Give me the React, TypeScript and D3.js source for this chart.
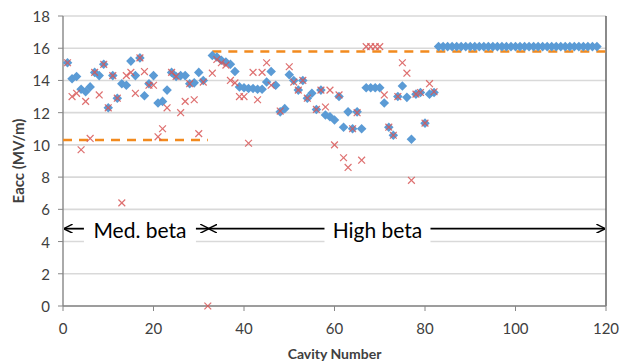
import * as d3 from "d3";

// Eacc per cavity (index = cavity number - 1)
const blueValues: (number | null)[] = [
  15.1, 14.1, 14.25, 13.45, 13.3, 13.6, 14.5, 14.3, 15.0, 12.3,
  14.3, 12.9, 13.8, 13.7, 15.2, 14.3, 15.4, 13.05, 13.8, 14.3,
  12.6, 12.7, 13.4, 14.5, 14.25, 14.3, 14.3, 13.8, 13.85, 14.5,
  14.0, null, 15.55, 15.45, 15.25, 15.15, 15.0, 14.55, 13.6, 13.55,
  13.5, 13.5, 13.45, 13.45, 13.9, 14.55, 13.7, 12.05, 12.25, 14.35,
  14.0, 13.4, 14.0, 12.9, 13.2, 12.2, 13.4, 11.85, 11.75, 11.55,
  13.0, 11.1, 12.05, 11.0, 12.05, 11.0, 13.55, 13.55, 13.55, 13.55,
  12.6, 11.1, 10.6, 13.0, 13.65, 12.95, 10.35, 13.15, 13.25, 11.35,
  13.15, 13.25,
  16.1, 16.1, 16.1, 16.1, 16.1, 16.1, 16.1, 16.1, 16.1, 16.1,
  16.1, 16.1, 16.1, 16.1, 16.1, 16.1, 16.1, 16.1, 16.1, 16.1,
  16.1, 16.1, 16.1, 16.1, 16.1, 16.1, 16.1, 16.1, 16.1, 16.1,
  16.1, 16.1, 16.1, 16.1, 16.1, 16.1,
];

const redValues: (number | null)[] = [
  15.1, 13.0, 13.2, 9.7, 12.7, 10.4, 14.5, 13.1, 15.0, 12.3,
  14.3, 12.9, 6.4, 14.3, 14.5, 13.2, 15.4, 14.55, 13.7, 13.7,
  10.5, 11.0, 12.3, 14.5, 14.25, 12.0, 12.7, 13.8, 12.8, 10.7,
  13.9, 0, 14.45, 15.3, 15.1, 14.95, 14.0, 13.85, 13.0, 13.0,
  10.1, 14.5, 12.8, 14.5, 15.1, 13.7, null, 12.1, null, 14.85,
  13.9, 13.4, 14.0, 12.9, null, 12.2, 13.4, 12.35, 13.4, 10.0,
  13.1, 9.2, 8.6, 11.0, 12.0, 9.05, 16.1, 16.1, 16.1, 16.1,
  13.1, 11.1, 10.6, 13.0, 15.1, 14.45, 7.8, 13.15, 13.25, 11.35,
  13.8, 13.3,
];

const specLines = [
  { start: 0, end: 32, value: 10.3 },
  { start: 33, end: 120, value: 15.8 },
];

const xTickValues = [0, 20, 40, 60, 80, 100, 120];
const yTickValues = [0, 2, 4, 6, 8, 10, 12, 14, 16, 18];

const sections = [
  { label: "Med. beta", from: 0, to: 32 },
  { label: "High beta", from: 32, to: 120 },
];

const width = 626;
const height = 362;
const margin = { top: 16, right: 20, bottom: 56, left: 63 };
const font = "Lato, 'Open Sans', sans-serif";

export default function App() {
  const x = d3
    .scaleLinear()
    .domain([0, 120])
    .range([margin.left, width - margin.right]);
  const y = d3
    .scaleLinear()
    .domain([0, 18])
    .range([height - margin.bottom, margin.top]);

  const diamond = d3.symbol(d3.symbolDiamond2, 58)() as string;

  const bluePoints = blueValues
    .map((v, i) => ({ n: i + 1, v }))
    .filter((d) => d.v !== null) as { n: number; v: number }[];
  const redPoints = redValues
    .map((v, i) => ({ n: i + 1, v }))
    .filter((d) => d.v !== null) as { n: number; v: number }[];

  const arrowY = y(4.8);
  const xr = 3.4;

  return (
    <svg
      width={width}
      height={height}
      style={{ position: "absolute", left: 0, top: 0, background: "#fff" }}
    >
      <defs>
        <marker
          id="head"
          viewBox="0 0 10 10"
          refX={9}
          refY={5}
          markerWidth={9}
          markerHeight={9}
          markerUnits="userSpaceOnUse"
          orient="auto"
        >
          <path d="M0,0 L10,5 L0,10" fill="none" stroke="#000" strokeWidth={1.6} />
        </marker>
      </defs>

      {/* grid */}
      {yTickValues.map((t) => (
        <line
          key={t}
          x1={x(0)}
          x2={x(120)}
          y1={y(t)}
          y2={y(t)}
          stroke="#d9d9d9"
          strokeWidth={1.6}
        />
      ))}

      {/* axes and border */}
      <line x1={x(0)} x2={x(0)} y1={y(18)} y2={y(0)} stroke="#868686" strokeWidth={1.4} />
      <line x1={x(120)} x2={x(120)} y1={y(18)} y2={y(0)} stroke="#595959" strokeWidth={1.4} />
      <line x1={x(0)} x2={x(120)} y1={y(0)} y2={y(0)} stroke="#868686" strokeWidth={1.4} />
      {yTickValues.map((t) => (
        <g key={t}>
          <line x1={x(0) - 5} x2={x(0)} y1={y(t)} y2={y(t)} stroke="#868686" />
          <text
            x={x(0) - 13}
            y={y(t)}
            textAnchor="end"
            dominantBaseline="central"
            fontFamily={font}
            fontSize={15}
            fill="#404040"
          >
            {t}
          </text>
        </g>
      ))}
      {xTickValues.map((t) => (
        <g key={t}>
          <line x1={x(t)} x2={x(t)} y1={y(0)} y2={y(0) + 5} stroke="#868686" />
          <text
            x={x(t)}
            y={y(0) + 22}
            textAnchor="middle"
            dominantBaseline="central"
            fontFamily={font}
            fontSize={15}
            fill="#404040"
          >
            {t}
          </text>
        </g>
      ))}
      <text
        x={(x(0) + x(120)) / 2}
        y={353}
        textAnchor="middle"
        dominantBaseline="central"
        fontFamily={font}
        fontWeight="bold"
        fontSize={14}
        fill="#404040"
      >
        Cavity Number
      </text>
      <text
        transform={`translate(18, ${(y(0) + y(18)) / 2}) rotate(-90)`}
        textAnchor="middle"
        dominantBaseline="central"
        fontFamily={font}
        fontWeight="bold"
        fontSize={15}
        fill="#404040"
      >
        Eacc (MV/m)
      </text>

      {/* spec lines */}
      {specLines.map((s) => (
        <line
          key={s.value}
          x1={x(s.start)}
          x2={x(s.end)}
          y1={y(s.value)}
          y2={y(s.value)}
          stroke="#f28a1e"
          strokeWidth={2.6}
          strokeDasharray="9,7"
        />
      ))}

      {/* measured points */}
      {bluePoints.map((d) => (
        <path
          key={`b${d.n}`}
          d={diamond}
          transform={`translate(${x(d.n)}, ${y(d.v)})`}
          fill="#5b9bd5"
        />
      ))}
      {redPoints.map((d) => (
        <g key={`r${d.n}`} stroke="#d95757" strokeWidth={1.2} opacity={0.85}>
          <line x1={x(d.n) - xr} x2={x(d.n) + xr} y1={y(d.v) - xr} y2={y(d.v) + xr} />
          <line x1={x(d.n) - xr} x2={x(d.n) + xr} y1={y(d.v) + xr} y2={y(d.v) - xr} />
        </g>
      ))}

      {/* section annotation */}
      {sections.map((s, i) => {
        const cx = i === 0 ? x(17) : x(69.5);
        const boxW = i === 0 ? 112 : 106;
        const left = cx - boxW / 2;
        const right = cx + boxW / 2;
        return (
          <g key={s.label}>
            <rect x={left} y={arrowY - 14} width={boxW} height={30} fill="#fff" />
            <line
              x1={left}
              x2={x(s.from) + 1.5}
              y1={arrowY}
              y2={arrowY}
              stroke="#000"
              strokeWidth={1.8}
              markerEnd="url(#head)"
            />
            <line
              x1={right}
              x2={x(s.to) - (i === 0 ? -0.5 : 1.5)}
              y1={arrowY}
              y2={arrowY}
              stroke="#000"
              strokeWidth={1.8}
              markerEnd="url(#head)"
            />
            <text
              x={cx}
              y={arrowY + 1}
              textAnchor="middle"
              dominantBaseline="central"
              fontFamily={font}
              fontSize={21}
              fill="#000"
            >
              {s.label}
            </text>
          </g>
        );
      })}
    </svg>
  );
}
